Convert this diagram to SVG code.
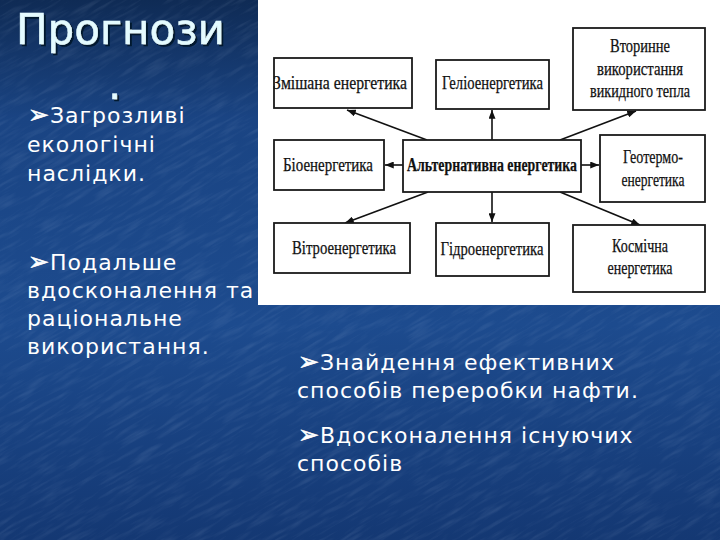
<svg xmlns="http://www.w3.org/2000/svg" width="720" height="540" viewBox="0 0 720 540">
  <defs>
    <linearGradient id="bg" x1="0" y1="0" x2="0" y2="1">
      <stop offset="0" stop-color="#0f2b55"/>
      <stop offset="0.22" stop-color="#1a4483"/>
      <stop offset="0.6" stop-color="#1d4b8e"/>
      <stop offset="1" stop-color="#143873"/>
    </linearGradient>
    <filter id="streaks" x="0" y="0" width="1" height="1">
      <feTurbulence type="fractalNoise" baseFrequency="0.03 0.25" numOctaves="3" seed="4"/>
      <feColorMatrix type="matrix" values="0 0 0 0 0.75  0 0 0 0 0.85  0 0 0 0 1  1.2 0 0 0 -0.55"/>
    </filter>
    <filter id="shadow" x="-10%" y="-10%" width="130%" height="140%">
      <feDropShadow dx="2" dy="2" stdDeviation="0.5" flood-color="#05122a" flood-opacity="0.95"/>
    </filter>
    <marker id="ah" viewBox="0 0 10 8" refX="10" refY="4" markerWidth="9" markerHeight="7" markerUnits="userSpaceOnUse" orient="auto">
      <path d="M0,0 L10,4 L0,8 z" fill="#111"/>
    </marker>
    <style>
      .slide { font-family: "DejaVu Sans", "Noto Sans", sans-serif; fill: #ffffff; font-size: 22px; letter-spacing: 1px; }
      .blt { font-size: 25px; letter-spacing: 1px; stroke: #ffffff; stroke-width: 0.6; }
      .title { font-family: "DejaVu Sans", "Noto Sans", sans-serif; fill: #e4fbff; font-size: 42px; stroke: #e4fbff; stroke-width: 0.5; }
      .box { fill: #ffffff; stroke: #1a1a1a; stroke-width: 1.8; }
      .lbl { font-family: "Liberation Serif", "DejaVu Serif", serif; font-size: 18px; fill: #111; stroke: #111; stroke-width: 0.25; text-anchor: middle; }
      .bold { font-weight: bold; }
      .conn line { stroke: #111; stroke-width: 1.6; marker-end: url(#ah); }
    </style>
  </defs>

  <rect x="0" y="0" width="720" height="540" fill="url(#bg)"/>
  <g opacity="0.18">
    <rect x="-300" y="-300" width="1400" height="1200" filter="url(#streaks)" transform="rotate(-30 360 270)"/>
  </g>

  <g id="title" filter="url(#shadow)">
    <text class="title" x="16" y="44">Прогнози</text>
    <text class="title" x="108" y="99">.</text>
  </g>

  <g id="bullets-left">
    <text class="slide" x="28" y="123"><tspan class="blt">➢</tspan>Загрозливі</text>
    <text class="slide" x="27" y="152">екологічні</text>
    <text class="slide" x="27" y="181">наслідки.</text>
    <text class="slide" x="28" y="270"><tspan class="blt">➢</tspan>Подальше</text>
    <text class="slide" x="27" y="298">вдосконалення та</text>
    <text class="slide" x="27" y="326">раціональне</text>
    <text class="slide" x="27" y="354">використання.</text>
  </g>

  <g id="bullets-right">
    <text class="slide" x="298" y="370"><tspan class="blt">➢</tspan>Знайдення ефективних</text>
    <text class="slide" x="297" y="398">способів переробки нафти.</text>
    <text class="slide" x="298" y="443"><tspan class="blt">➢</tspan>Вдосконалення існуючих</text>
    <text class="slide" x="297" y="471">способів</text>
  </g>

  <rect id="panel" x="258" y="0" width="462" height="305" fill="#ffffff"/>

  <g class="conn" id="connectors">
    <line x1="427" y1="140" x2="347" y2="110"/>
    <line x1="492" y1="140" x2="492" y2="110"/>
    <line x1="560" y1="140" x2="636" y2="111"/>
    <line x1="403" y1="165" x2="385" y2="165"/>
    <line x1="581" y1="165" x2="599" y2="165"/>
    <line x1="428" y1="192" x2="345" y2="223"/>
    <line x1="492" y1="192" x2="492" y2="222"/>
    <line x1="560" y1="192" x2="640" y2="225"/>
  </g>

  <g id="n-mixed">
    <rect class="box" x="274" y="58" width="138" height="50"/>
    <text class="lbl" x="340" y="89" textLength="134" lengthAdjust="spacingAndGlyphs">Змішана енергетика</text>
  </g>
  <g id="n-helio">
    <rect class="box" x="436" y="60" width="113" height="49"/>
    <text class="lbl" x="492.5" y="89" textLength="101" lengthAdjust="spacingAndGlyphs">Геліоенергетика</text>
  </g>
  <g id="n-secondary">
    <rect class="box" x="573" y="28" width="132" height="82"/>
    <text class="lbl" x="640" y="52" textLength="60" lengthAdjust="spacingAndGlyphs">Вторинне</text>
    <text class="lbl" x="640" y="75" textLength="86" lengthAdjust="spacingAndGlyphs">використання</text>
    <text class="lbl" x="640" y="97" textLength="100" lengthAdjust="spacingAndGlyphs">викидного тепла</text>
  </g>
  <g id="n-bio">
    <rect class="box" x="274" y="140" width="110" height="50"/>
    <text class="lbl" x="328" y="171" textLength="90" lengthAdjust="spacingAndGlyphs">Біоенергетика</text>
  </g>
  <g id="n-alt">
    <rect class="box" x="403" y="140" width="178" height="52"/>
    <text class="lbl bold" x="492" y="171" textLength="170" lengthAdjust="spacingAndGlyphs">Альтернативна енергетика</text>
  </g>
  <g id="n-geo">
    <rect class="box" x="600" y="135" width="105" height="67"/>
    <text class="lbl" x="653" y="163" textLength="60" lengthAdjust="spacingAndGlyphs">Геотермо-</text>
    <text class="lbl" x="653" y="186" textLength="63" lengthAdjust="spacingAndGlyphs">енергетика</text>
  </g>
  <g id="n-wind">
    <rect class="box" x="274" y="223" width="136" height="50"/>
    <text class="lbl" x="344" y="254" textLength="104" lengthAdjust="spacingAndGlyphs">Вітроенергетика</text>
  </g>
  <g id="n-hydro">
    <rect class="box" x="436" y="223" width="113" height="53"/>
    <text class="lbl" x="492" y="255" textLength="103" lengthAdjust="spacingAndGlyphs">Гідроенергетика</text>
  </g>
  <g id="n-space">
    <rect class="box" x="573" y="225" width="132" height="67"/>
    <text class="lbl" x="640" y="252" textLength="56" lengthAdjust="spacingAndGlyphs">Космічна</text>
    <text class="lbl" x="640" y="274" textLength="65" lengthAdjust="spacingAndGlyphs">енергетика</text>
  </g>
</svg>
